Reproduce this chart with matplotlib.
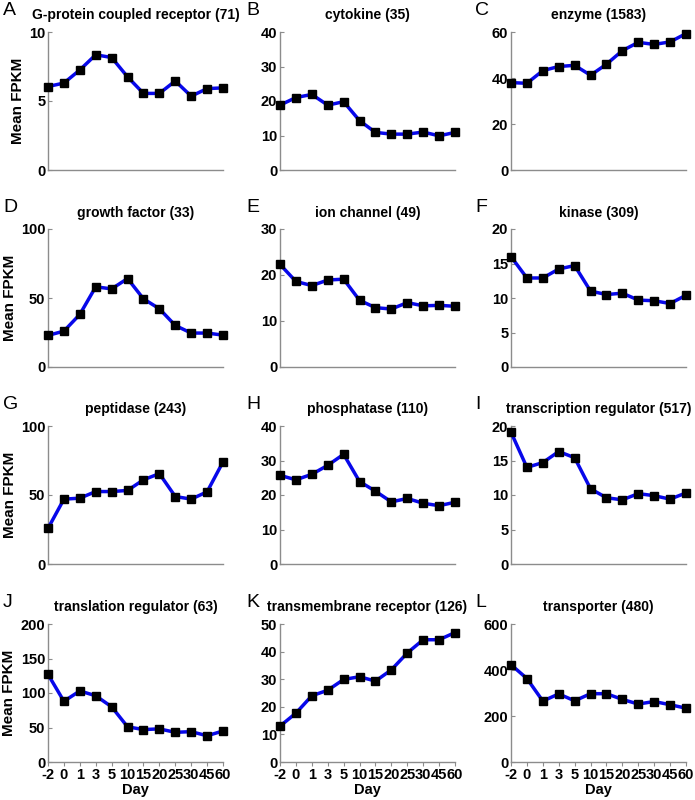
import numpy as np
import matplotlib
matplotlib.use("Agg")
import matplotlib.pyplot as plt

plt.rcParams["font.family"] = ["Liberation Sans", "DejaVu Sans"]

# time points (plotted as evenly spaced categories)
days = ["-2", "0", "1", "3", "5", "10", "15", "20", "25", "30", "45", "60"]

letters = ["A", "B", "C", "D", "E", "F", "G", "H", "I", "J", "K", "L"]
titles = [
    "G-protein coupled receptor (71)", "cytokine (35)", "enzyme (1583)",
    "growth factor (33)", "ion channel (49)", "kinase (309)",
    "peptidase (243)", "phosphatase (110)", "transcription regulator (517)",
    "translation regulator (63)", "transmembrane receptor (126)", "transporter (480)",
]

gpcr = [6.05, 6.3, 7.25, 8.35, 8.15, 6.75, 5.55, 5.55, 6.45, 5.35, 5.9, 5.95]
cytokine = [18.8, 21.0, 21.9, 18.8, 19.8, 14.3, 10.9, 10.4, 10.4, 11.0, 9.9, 10.9]
enzyme = [38.0, 37.7, 43.2, 45.0, 45.5, 41.2, 46.0, 51.9, 55.5, 54.6, 55.7, 59.3]
growth_factor = [22.9, 26.0, 38.1, 58.1, 56.6, 64.1, 49.4, 42.2, 30.1, 24.6, 24.6, 23.1]
ion_channel = [22.3, 18.6, 17.7, 18.9, 19.1, 14.5, 12.9, 12.6, 14.0, 13.3, 13.4, 13.2]
kinase = [16.0, 12.9, 12.9, 14.2, 14.7, 11.0, 10.5, 10.7, 9.7, 9.6, 9.2, 10.4]
peptidase = [25.8, 47.0, 47.7, 52.5, 52.5, 53.3, 61.0, 65.5, 48.9, 47.0, 52.3, 74.0]
phosphatase = [25.7, 24.4, 26.0, 28.6, 31.8, 23.9, 21.1, 18.0, 19.0, 17.6, 16.9, 17.9]
transcription = [19.1, 14.0, 14.7, 16.3, 15.4, 10.9, 9.6, 9.3, 10.2, 9.9, 9.4, 10.3]
translation = [127, 88, 103, 96, 80, 51, 47, 48, 43, 44, 38, 45]
transmembrane = [13.0, 17.7, 24.0, 26.0, 29.9, 30.9, 29.3, 33.4, 39.5, 44.3, 44.3, 46.9]
transporter = [423, 363, 265, 296, 266, 297, 297, 272, 252, 263, 249, 234]

series = [gpcr, cytokine, enzyme, growth_factor, ion_channel, kinase,
          peptidase, phosphatase, transcription, translation, transmembrane, transporter]
ymax = [10, 40, 60, 100, 30, 20, 100, 40, 20, 200, 50, 600]
ystep = [5, 10, 20, 50, 10, 5, 50, 10, 5, 50, 10, 200]

W, H = 695, 800
fig = plt.figure(figsize=(W / 100, H / 100), dpi=100)

col_left = [48, 280, 511]
col_width = 175
row_top = [32, 229, 426, 624]
row_height = 138
letter_x = [3, 246, 475]

x = np.arange(len(days))
for i, (vals, title) in enumerate(zip(series, titles)):
    r, c = divmod(i, 3)
    ax = fig.add_axes([col_left[c] / W, 1 - (row_top[r] + row_height) / H,
                       col_width / W, row_height / H])
    ax.plot(x, vals, color="#0808ea", lw=2.5, marker="s", ms=5.5,
            mfc="black", mec="black", zorder=3, clip_on=False)
    ax.set_xlim(0, len(days) - 1)
    ax.set_ylim(0, ymax[i])
    ax.set_yticks(np.arange(0, ymax[i] + 1, ystep[i]))
    for s in ["top", "right"]:
        ax.spines[s].set_visible(False)
    for s in ["left", "bottom"]:
        ax.spines[s].set_color("#8c8c8c")
        ax.spines[s].set_linewidth(1.0)
    ax.tick_params(axis="both", colors="#8c8c8c", labelcolor="black",
                   labelsize=10.5, length=3, width=0.8, direction="in", pad=2)
    for lab in ax.get_yticklabels():
        lab.set_fontweight("bold")
    ax.set_xticks(x)
    if r == 3:
        ax.set_xticklabels(days, fontweight="bold", fontsize=10.5)
        ax.set_xlabel("Day", fontweight="bold", fontsize=10.5, labelpad=1)
        ax.tick_params(axis="x", direction="out", pad=1)
    else:
        ax.set_xticklabels([])
        ax.tick_params(axis="x", length=0)
    if c == 0:
        ax.set_ylabel("Mean FPKM", fontweight="bold", fontsize=11, labelpad=3)
    ax.set_title(title, fontweight="bold", fontsize=10, pad=9)
    fig.text(letter_x[c] / W, 1 - (row_top[r] - 30) / H, letters[i],
             fontsize=14, va="top", ha="left")

fig.savefig("out.png", dpi=100, facecolor="white")
